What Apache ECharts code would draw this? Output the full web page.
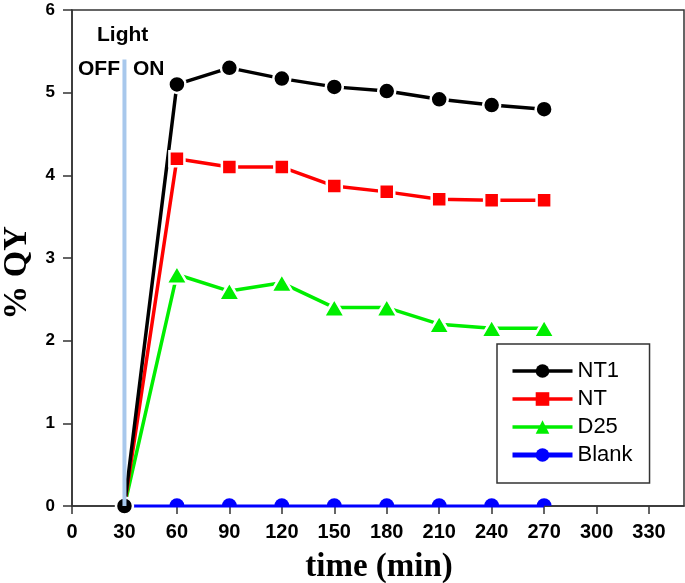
<!DOCTYPE html>
<html>
<head>
<meta charset="utf-8">
<script src="https://cdn.jsdelivr.net/npm/echarts@6/dist/echarts.min.js"></script>
<style>html,body{margin:0;padding:0;background:#fff}#c{width:685px;height:583px}</style>
</head>
<body>
<div id="c"></div>
<script>
var times = [30, 60, 90, 120, 150, 180, 210, 240, 270];
var nt1 = [0, 5.1, 5.3, 5.17, 5.07, 5.02, 4.92, 4.85, 4.8];
var nt = [0, 4.2, 4.1, 4.1, 3.87, 3.8, 3.71, 3.7, 3.7];
var d25 = [0, 2.8, 2.6, 2.7, 2.4, 2.4, 2.2, 2.15, 2.15];
var blank = [0, 0, 0, 0, 0, 0, 0, 0, 0];
var lightX = [30, 30];
var lightY = [0, 5.4];
var xTicks = [0, 30, 60, 90, 120, 150, 180, 210, 240, 270, 300, 330];
var yTicks = [0, 1, 2, 3, 4, 5, 6];

function pairs(xs, ys) { return xs.map(function (x, i) { return [x, ys[i]]; }); }
var halfCircle = 'path://M0,10A10,10,0,0,1,20,10Z';

var chart = echarts.init(document.getElementById('c'));
var mk = function (name, data, color, symbol, size, extra) {
  var s = {
    name: name, type: 'line', data: pairs(times, data),
    symbol: symbol, symbolSize: size, showSymbol: true,
    lineStyle: { color: color, width: 3.5 },
    itemStyle: { color: color, borderColor: '#fff', borderWidth: 2.5 },
    emphasis: { disabled: true }, animation: false, clip: false, z: 3
  };
  if (extra) for (var k in extra) s[k] = extra[k];
  return s;
};
var blankData = pairs(times, blank).map(function (p) {
  return { value: p, symbol: halfCircle, symbolSize: [15, 7.5], symbolOffset: [0, -4] };
});
chart.setOption({
  animation: false,
  grid: { left: 72, top: 10, right: 1, bottom: 77, show: true, borderColor: '#333', borderWidth: 1.5, backgroundColor: 'transparent' },
  xAxis: {
    type: 'value', min: 0, max: 350, interval: 30,
    axisLine: { lineStyle: { color: '#333', width: 1.5 } },
    axisTick: { show: true, length: 8, customValues: xTicks, lineStyle: { color: '#333', width: 1.5 } },
    axisLabel: { customValues: xTicks, color: '#000', fontFamily: 'Liberation Sans, Arial', fontWeight: 'bold', fontSize: 20, margin: 16 },
    splitLine: { show: false }
  },
  yAxis: {
    type: 'value', min: 0, max: 6, interval: 1,
    axisLine: { show: true, lineStyle: { color: '#333', width: 1.5 } },
    axisTick: { show: true, length: 9, customValues: yTicks, lineStyle: { color: '#333', width: 1.5 } },
    axisLabel: { customValues: yTicks, color: '#000', fontFamily: 'Liberation Sans, Arial', fontWeight: 'bold', fontSize: 17, margin: 17 },
    splitLine: { show: false }
  },
  legend: {
    data: [{ name: 'NT1' }, { name: 'NT' }, { name: 'D25' }, { name: 'Blank', lineStyle: { width: 5 } }],
    orient: 'vertical', left: 497, top: 344,
    padding: [16, 17, 17, 13], itemGap: 6, itemWidth: 60, itemHeight: 17,
    backgroundColor: '#fff', borderColor: '#333', borderWidth: 1.5, borderRadius: 0,
    lineStyle: { width: 3.5 },
    itemStyle: { borderWidth: 0 },
    textStyle: { color: '#000', fontFamily: 'Liberation Sans, Arial', fontSize: 22, lineHeight: 22 },
    selectedMode: false
  },
  graphic: [
    { type: 'text', left: 97, top: 25, style: { text: 'Light', font: 'bold 21px "Liberation Sans", Arial', fill: '#000' } },
    { type: 'text', left: 78, top: 59, style: { text: 'OFF', font: 'bold 21px "Liberation Sans", Arial', fill: '#000' } },
    { type: 'text', left: 133, top: 59, style: { text: 'ON', font: 'bold 21px "Liberation Sans", Arial', fill: '#000' } },
    { type: 'text', x: 379, y: 567, style: { text: 'time (min)', font: 'bold 33px "Liberation Serif", "Times New Roman"', fill: '#000', align: 'center', verticalAlign: 'middle' } },
    { type: 'text', x: 17, y: 273, rotation: Math.PI / 2, style: { text: '% QY', font: 'bold 34px "Liberation Serif", "Times New Roman"', fill: '#000', align: 'center', verticalAlign: 'middle' } }
  ],
  series: [
    { name: 'base', type: 'line', data: pairs(times, blank), symbol: 'none', lineStyle: { color: '#c8c400', width: 2 }, z: 1, emphasis: { disabled: true }, clip: false, silent: true },
    { name: 'Blank', type: 'line', data: blankData, symbol: 'circle', symbolSize: 12, showSymbol: true,
      lineStyle: { color: '#0000ff', width: 3 }, itemStyle: { color: '#0000ff' }, z: 2, clip: false, emphasis: { disabled: true } },
    mk('D25', d25, '#00ee00', 'triangle', [21, 18]),
    mk('NT', nt, '#ff0000', 'rect', 15),
    mk('NT1', nt1, '#000000', 'circle', 17),
    { name: 'light', type: 'line', data: pairs(lightX, lightY), symbol: 'none', lineStyle: { color: '#a8c8ec', width: 4 }, z: 5, emphasis: { disabled: true }, silent: true }
  ]
});
</script>
</body>
</html>
